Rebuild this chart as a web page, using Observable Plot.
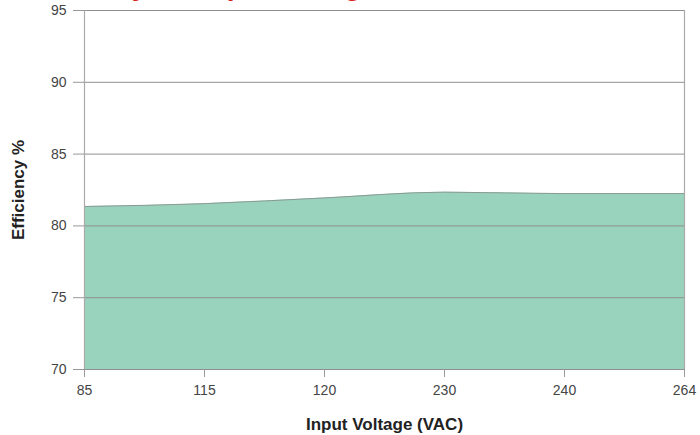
<!DOCTYPE html>
<html>
<head>
<meta charset="utf-8">
<script src="https://cdn.jsdelivr.net/npm/d3@7"></script>
<script src="https://cdn.jsdelivr.net/npm/@observablehq/plot@0.6"></script>
<style>
  html, body { margin: 0; padding: 0; background: #fff; overflow: hidden; }
  #wrap { position: relative; width: 700px; height: 435px; }
  #title { position: absolute; left: 15px; top: -28px; font: bold 28px/28px "Liberation Sans", Arial, sans-serif; color: #d7261e; white-space: nowrap; z-index: 2; }
</style>
</head>
<body>
<div id="wrap">
  <div id="title">Efficiency vs. Input Voltage</div>
  <div id="chart"></div>
</div>
<script>
const voltages = ["85", "115", "120", "230", "240", "264"];
const efficiency = [81.35, 81.55, 81.95, 82.35, 82.25, 82.25];
const yTicks = [70, 75, 80, 85, 90, 95];

const data = voltages.map((v, i) => ({voltage: v, eff: efficiency[i]}));

const chart = Plot.plot({
  width: 700,
  height: 435,
  marginLeft: 83,
  marginRight: 15,
  marginTop: 10,
  marginBottom: 66,
  style: {fontFamily: "'Liberation Sans', Arial, sans-serif", fontSize: "14px", color: "#444", background: "#fff"},
  x: {type: "point", domain: voltages, padding: 0},
  y: {domain: [70, 95]},
  marks: [
    Plot.areaY(data, {x: "voltage", y1: 70, y2: "eff", fill: "#9ad3bd", curve: "monotone-x"}),
    Plot.lineY(data, {x: "voltage", y: "eff", stroke: "#8a9a94", strokeWidth: 1, curve: "monotone-x"}),
    Plot.gridY(yTicks, {stroke: "#8f8f8f", strokeOpacity: 1, strokeWidth: 1}),
    Plot.ruleX([voltages[0], voltages[voltages.length - 1]], {stroke: "#aaa", strokeWidth: 1.2}),
    Plot.axisY({ticks: yTicks, tickSize: 10, text: null, stroke: "#999", label: "Efficiency %", labelAnchor: "center", labelArrow: "none", labelOffset: 72}),
    Plot.text(yTicks, {y: d => d, frameAnchor: "left", textAnchor: "end", dx: -17, fill: "#444", fontSize: 14}),
    Plot.axisX({tickSize: 8, tickPadding: 8, stroke: "#999", label: "Input Voltage (VAC)", labelAnchor: "center", labelArrow: "none", labelOffset: 60, fontSize: 14})
  ]
});

d3.select(chart).selectAll("g[aria-label='y-axis label'] text, g[aria-label='x-axis label'] text")
  .style("font-weight", "bold").style("font-size", "17px").style("fill", "#222");

document.getElementById("chart").appendChild(chart);
</script>
</body>
</html>
